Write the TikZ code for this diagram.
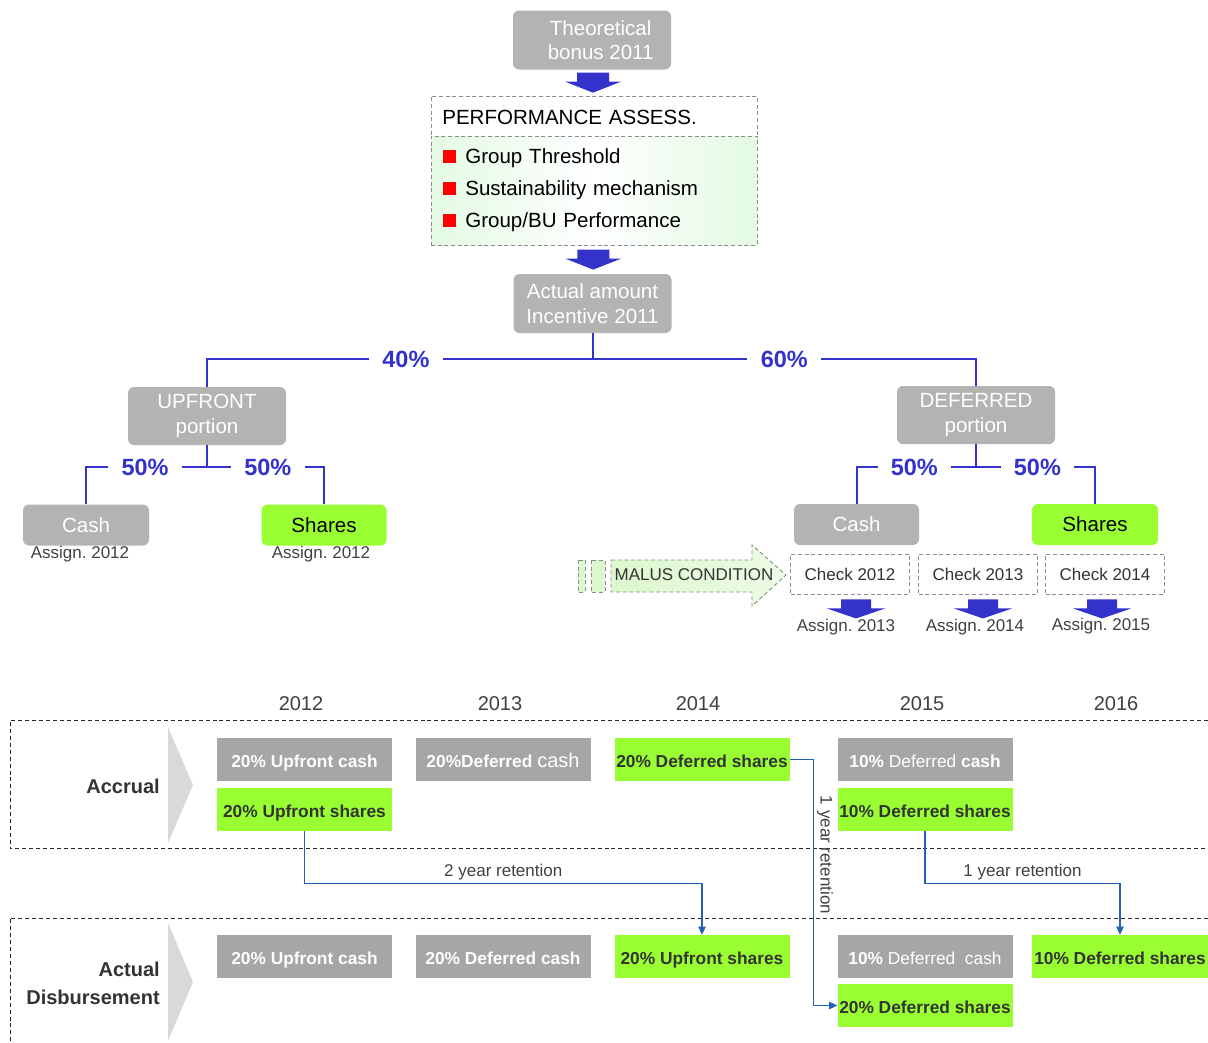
\documentclass[tikz,border=0pt]{standalone}
\usepackage{fontspec}
\setmainfont{Liberation Sans}
\usetikzlibrary{arrows.meta,calc}
\definecolor{boxgray}{HTML}{B3B3B3}
\definecolor{cellgray}{HTML}{A6A6A6}
\definecolor{shgreen}{HTML}{99FF33}
\definecolor{pblue}{HTML}{3333CC}
\definecolor{rblue}{HTML}{2262B0}
\definecolor{dgray}{HTML}{333333}
\definecolor{mgray}{HTML}{404040}
\definecolor{dashgray}{HTML}{8C8C8C}
\definecolor{perfg}{HTML}{E3FAE3}
\definecolor{malg}{HTML}{DDF8CF}
\definecolor{chev}{HTML}{D9D9D9}
\newcommand\redbul{\raisebox{0.6pt}{\textcolor{red}{\rule{9.5pt}{9.5pt}}}\hspace{7pt}}
\frenchspacing
\begin{document}
\begin{tikzpicture}[x=0.75pt,y=-0.75pt,
  wh/.style 2 args={minimum width=#1*0.75pt, minimum height=#2*0.75pt},
  rbox/.style={rounded corners=4.5pt, fill=boxgray, text=white, inner sep=0pt, align=center, font=\fontsize{15.4}{18.5}\selectfont},
  gbox/.style={rbox, fill=shgreen, text=black},
  pct/.style={text=pblue, fill=white, font=\fontsize{17.6}{20}\selectfont\bfseries, inner xsep=10pt, inner ysep=1pt},
  tree/.style={draw=pblue, line width=1.5pt},
  small/.style={font=\fontsize{12.75}{15}\selectfont, text=mgray, inner sep=0pt},
  dsh/.style={draw=dashgray, dash pattern=on 3pt off 2pt, line width=0.7pt},
  chk/.style={dsh, wh={119}{40}, small, text=dgray},
  cell/.style={fill=cellgray, text=white, inner sep=0pt, wh={175}{43}, text height=12pt, text depth=0.4pt, font=\fontsize{13}{15}\selectfont\bfseries},
  scell/.style={cell, fill=shgreen, text=dgray},
  ret/.style={draw=rblue, line width=0.9pt, -{Triangle[length=6pt,width=5.5pt]}},
  frame/.style={draw=black!85, dash pattern=on 3pt off 2.2pt, line width=0.7pt},
  year/.style={font=\fontsize{15}{18}\selectfont, text=mgray, inner sep=0pt},
  rowlab/.style={font=\fontsize{15}{21}\selectfont\bfseries, text=dgray, align=right, anchor=east, inner sep=0pt},
  bigarrow/.pic={\fill[pblue] (-16,-10) -- (16,-10) -- (16,-1) -- (28,-1) -- (0,10) -- (-28,-1) -- (-16,-1) -- cycle;},
  smallarrow/.pic={\fill[pblue] (-15,-9) -- (15,-9) -- (15,0) -- (29,0) -- (0,10) -- (-29,0) -- (-15,0) -- cycle;}
]
\useasboundingbox (0,0) rectangle (1208,1043);

% ---------- top flow ----------
\node[rbox, wh={158}{59}] (theo) at (592,40) {\hspace*{13pt}Theoretical\\\hspace*{13pt}bonus 2011};
\node[dsh, fill=white, wh={326}{40}, inner xsep=8.25pt, inner ysep=0pt, text width=227.5pt, text height=13.2pt, text depth=0pt, align=left, font=\fontsize{15.4}{18}\selectfont] (perfh) at (594,116) {PERFORMANCE ASSESS.};
\node[dsh, left color=perfg, right color=perfg, middle color=white, wh={326}{109}, inner xsep=9pt, inner ysep=0pt, text width=226pt, align=left, font=\fontsize{15.4}{24}\selectfont] (perfb) at (594,190.5)
  {\redbul Group Threshold\\\redbul Sustainability mechanism\\\redbul Group/BU Performance};
\node[rbox, wh={158}{59}] (actual) at (592.5,303.5) {Actual amount\\Incentive 2011};
\pic at ($(theo.south)!0.5!(perfh.north)$) {bigarrow};
\pic at ($(perfb.south)!0.5!(actual.north)$) {bigarrow};

\node[rbox, wh={158}{58}] (upfront) at (207,416) {UPFRONT\\portion};
\node[rbox, wh={158}{58}] (deferred) at (976,415) {DEFERRED\\portion};

\node[rbox, wh={126}{41}] (cashU) at (86,525) {Cash};
\node[gbox, wh={125}{41}] (sharesU) at (324,525) {Shares};
\node[rbox, wh={125}{41}] (cashD) at (856.5,524.5) {Cash};
\node[gbox, wh={126}{41}] (sharesD) at (1095,524.5) {Shares};

\node[small] (asgU1) at (80,554) {Assign. 2012};
\node[small] (asgU2) at (321,554) {Assign. 2012};

\draw[tree] (actual.south) -- ++(0,26) -| node[pct, pos=0.242] {40\%} (upfront.north);
\draw[tree] (actual.south) -- ++(0,26) -| node[pct, pos=0.25] {60\%} (deferred.north);
\draw[tree] (upfront.south) -- ++(0,22) -| node[pct, pos=0.256] {50\%} (cashU.north);
\draw[tree] (upfront.south) -- ++(0,22) -| node[pct, pos=0.26] {50\%} (sharesU.north);
\draw[tree] (deferred.south) -- ++(0,23) -| node[pct, pos=0.258] {50\%} (cashD.north);
\draw[tree] (deferred.south) -- ++(0,23) -| node[pct, pos=0.258] {50\%} (sharesD.north);

% malus condition arrow
\path[dsh, fill=malg] (578,560) rectangle (585,592);
\path[dsh, fill=malg] (591,560) rectangle (605,592);
\path[dsh, left color=malg, right color=malg!55] (611,560) -- (752,560) -- (752,545) -- (786,575) -- (752,606) -- (752,592) -- (611,592) -- cycle;
\node[small, text=dgray] (malus) at (694,575) {MALUS CONDITION};

\node[chk] (chk1) at (850,574) {Check 2012};
\node[chk] (chk2) at (978,574) {Check 2013};
\node[chk] (chk3) at (1105,574) {Check 2014};
\pic at ($(chk1.south)+(6,14)$) {smallarrow};
\pic at ($(chk2.south)+(5,14)$) {smallarrow};
\pic at ($(chk3.south)+(-3,14)$) {smallarrow};
\node[small] (asg13) at (846,627) {Assign. 2013};
\node[small] (asg14) at (975,627) {Assign. 2014};
\node[small] (asg15) at (1101,626) {Assign. 2015};

% ---------- timeline ----------
\node[year] (y12) at (301,704) {2012};
\node[year] (y13) at (500,704) {2013};
\node[year] (y14) at (698,704) {2014};
\node[year] (y15) at (922,704) {2015};
\node[year] (y16) at (1116,704) {2016};

\draw[frame] (1208,720.5) -- (10,720.5) -- (10,848.5) -- (1208,848.5);
\draw[frame] (1208,918) -- (10,918) -- (10,1043);
\fill[chev] (168,727) -- (193,785) -- (168,843) -- cycle;
\fill[chev] (168,923) -- (193,982) -- (168,1041) -- cycle;

\node[rowlab] (accr) at (160,786) {Accrual};
\node[rowlab] (disb) at (160,983) {Actual\\Disbursement};

\node[cell] (a1) at (304.5,759.5) {20\% Upfront cash};
\node[scell] (a2) at (304.5,809.5) {20\% Upfront shares};
\node[cell] (a3) at (503,759.5) {20\%Deferred {\mdseries\fontsize{15}{15}\selectfont cash}};
\node[scell] (a4) at (702,759.5) {20\% Deferred shares};
\node[cell] (a5) at (925,759.5) {10\% {\mdseries Deferred} cash};
\node[scell] (a6) at (925,809.5) {10\% Deferred shares};

\node[cell] (d1) at (304.5,956.5) {20\% Upfront cash};
\node[cell] (d2) at (503,956.5) {20\% Deferred cash};
\node[scell] (d3) at (702,956.5) {20\% Upfront shares};
\node[cell] (d4) at (925,956.5) {10\% {\mdseries Deferred\ \ cash}};
\node[scell] (d5) at (925,1005.5) {20\% Deferred shares};
\node[scell, wh={177}{43}] (d6) at (1120,956.5) {10\% Deferred shares};

\draw[ret] (a2.south) -- ++(0,52) -| node[pos=0.25, above, small, inner sep=2pt] {2 year retention} (d3.north);
\draw[ret] (a4.east) -- ++(24,0) |- node[pos=0.194, rotate=-90, anchor=south, small, inner sep=2pt] {1 year retention} (d5.west);
\draw[ret] (a6.south) -- ++(0,52) -| node[pos=0.25, above, small, inner sep=2pt] {1 year retention} (d6.north);
\end{tikzpicture}
\end{document}
